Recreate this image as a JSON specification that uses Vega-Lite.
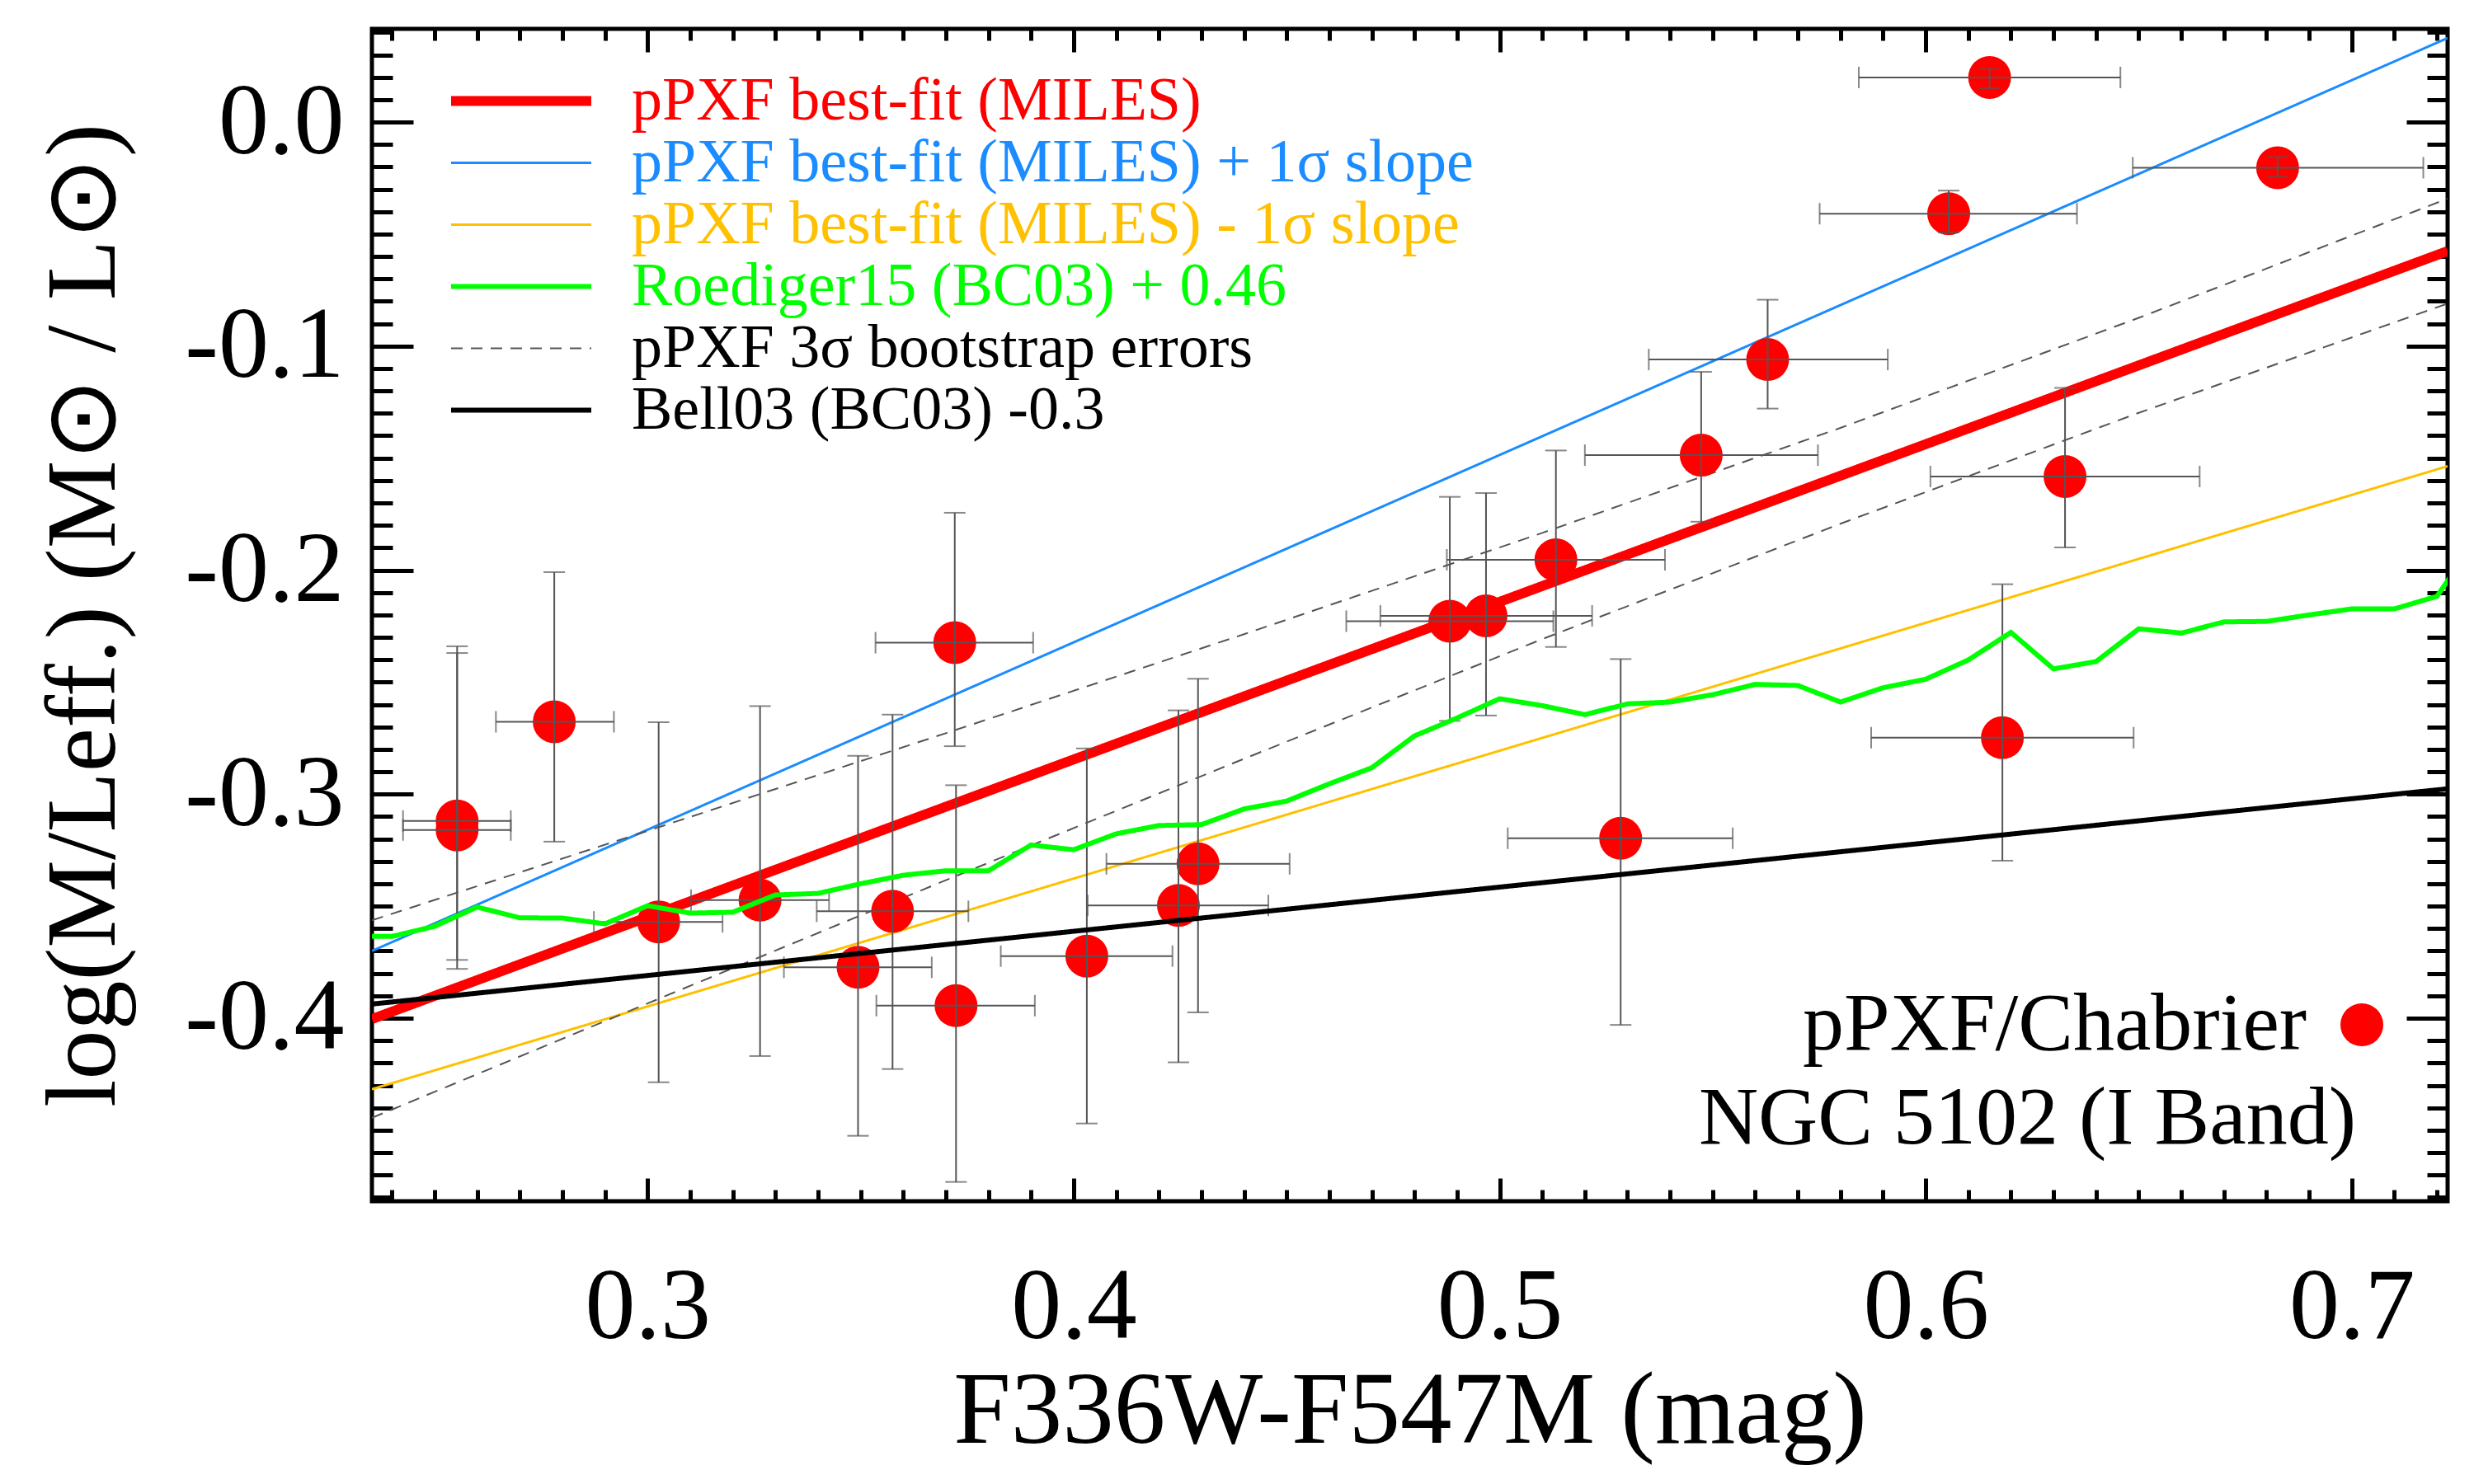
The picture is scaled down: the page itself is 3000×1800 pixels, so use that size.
{
  "$schema": "https://vega.github.io/schema/vega-lite/v6.json",
  "width": 2517,
  "height": 1422,
  "autosize": {"type": "none"},
  "padding": {"left": 451, "top": 35, "right": 32, "bottom": 343},
  "background": "white",
  "title": {"text": "NGC 5102 (I Band)", "orient": "top", "anchor": "end", "frame": "group", "offset": -1454, "dx": -111, "baseline": "alphabetic", "font": "Liberation Serif", "fontSize": 100, "fontWeight": "normal", "color": "black"},
  "config": {
    "view": {"stroke": "black", "strokeWidth": 5},
    "font": "Liberation Serif",
    "axis": {"domain": false, "grid": false, "tickColor": "black", "tickWidth": 5, "labelColor": "black", "labelFont": "Liberation Serif", "titleFont": "Liberation Serif", "titleFontWeight": "normal", "titleColor": "black", "labelLimit": 1000, "titleLimit": 3000, "zindex": 1},
    "legend": {"labelFont": "Liberation Serif", "titleFont": "Liberation Serif", "labelColor": "black"}
  },
  "datasets": {
    "points": [
      {"x": 0.2553, "y": -0.312, "xlo": 0.2426, "xhi": 0.2679, "ylo": -0.374, "yhi": -0.234},
      {"x": 0.2553, "y": -0.316, "xlo": 0.2426, "xhi": 0.2679, "ylo": -0.378, "yhi": -0.237},
      {"x": 0.2781, "y": -0.2677, "xlo": 0.2644, "xhi": 0.2921, "ylo": -0.3212, "yhi": -0.2009},
      {"x": 0.3026, "y": -0.357, "xlo": 0.2874, "xhi": 0.3176, "ylo": -0.4286, "yhi": -0.2679},
      {"x": 0.3264, "y": -0.3473, "xlo": 0.3102, "xhi": 0.3426, "ylo": -0.4169, "yhi": -0.2607},
      {"x": 0.3494, "y": -0.3773, "xlo": 0.332, "xhi": 0.3667, "ylo": -0.4525, "yhi": -0.2829},
      {"x": 0.3575, "y": -0.3523, "xlo": 0.3397, "xhi": 0.3753, "ylo": -0.4227, "yhi": -0.2645},
      {"x": 0.3721, "y": -0.2324, "xlo": 0.3535, "xhi": 0.3905, "ylo": -0.2786, "yhi": -0.1744},
      {"x": 0.3724, "y": -0.3944, "xlo": 0.3537, "xhi": 0.3909, "ylo": -0.4731, "yhi": -0.296},
      {"x": 0.4031, "y": -0.3723, "xlo": 0.3829, "xhi": 0.4232, "ylo": -0.447, "yhi": -0.2796},
      {"x": 0.4246, "y": -0.3497, "xlo": 0.4033, "xhi": 0.4457, "ylo": -0.4197, "yhi": -0.2626},
      {"x": 0.4292, "y": -0.3311, "xlo": 0.4077, "xhi": 0.4507, "ylo": -0.3974, "yhi": -0.2485},
      {"x": 0.4883, "y": -0.2228, "xlo": 0.464, "xhi": 0.5126, "ylo": -0.2673, "yhi": -0.1673},
      {"x": 0.4968, "y": -0.2204, "xlo": 0.472, "xhi": 0.5217, "ylo": -0.2649, "yhi": -0.1656},
      {"x": 0.5132, "y": -0.1954, "xlo": 0.4876, "xhi": 0.5388, "ylo": -0.2343, "yhi": -0.1466},
      {"x": 0.5284, "y": -0.3197, "xlo": 0.5019, "xhi": 0.5547, "ylo": -0.403, "yhi": -0.2397},
      {"x": 0.5473, "y": -0.1487, "xlo": 0.52, "xhi": 0.5747, "ylo": -0.1784, "yhi": -0.1115},
      {"x": 0.5629, "y": -0.106, "xlo": 0.535, "xhi": 0.5911, "ylo": -0.1279, "yhi": -0.0793},
      {"x": 0.6054, "y": -0.0409, "xlo": 0.5751, "xhi": 0.6355, "ylo": -0.0493, "yhi": -0.0306},
      {"x": 0.615, "y": 0.0199, "xlo": 0.5843, "xhi": 0.6457, "ylo": 0.0151, "yhi": 0.0237},
      {"x": 0.618, "y": -0.2748, "xlo": 0.5872, "xhi": 0.6488, "ylo": -0.3297, "yhi": -0.2063},
      {"x": 0.6327, "y": -0.1582, "xlo": 0.6011, "xhi": 0.6643, "ylo": -0.1899, "yhi": -0.1187},
      {"x": 0.6826, "y": -0.0204, "xlo": 0.6486, "xhi": 0.7168, "ylo": -0.0244, "yhi": -0.0156}
    ],
    "lines": [
      {"series": "pPXF best-fit (MILES)", "part": "a", "x": 0.2353, "y": -0.4004},
      {"series": "pPXF best-fit (MILES)", "part": "a", "x": 0.7225, "y": -0.0576},
      {"series": "pPXF best-fit (MILES) + 1σ slope", "part": "a", "x": 0.2353, "y": -0.37},
      {"series": "pPXF best-fit (MILES) + 1σ slope", "part": "a", "x": 0.7225, "y": 0.0375},
      {"series": "pPXF best-fit (MILES) - 1σ slope", "part": "a", "x": 0.2353, "y": -0.4317},
      {"series": "pPXF best-fit (MILES) - 1σ slope", "part": "a", "x": 0.7225, "y": -0.1536},
      {"series": "Bell03 (BC03) -0.3", "part": "a", "x": 0.2353, "y": -0.3937},
      {"series": "Bell03 (BC03) -0.3", "part": "a", "x": 0.7225, "y": -0.2976},
      {"series": "pPXF 3σ bootstrap errors", "part": "upper", "x": 0.2353, "y": -0.3563},
      {"series": "pPXF 3σ bootstrap errors", "part": "upper", "x": 0.30, "y": -0.3164},
      {"series": "pPXF 3σ bootstrap errors", "part": "upper", "x": 0.37, "y": -0.2728},
      {"series": "pPXF 3σ bootstrap errors", "part": "upper", "x": 0.44, "y": -0.2286},
      {"series": "pPXF 3σ bootstrap errors", "part": "upper", "x": 0.51, "y": -0.1834},
      {"series": "pPXF 3σ bootstrap errors", "part": "upper", "x": 0.58, "y": -0.1365},
      {"series": "pPXF 3σ bootstrap errors", "part": "upper", "x": 0.65, "y": -0.0874},
      {"series": "pPXF 3σ bootstrap errors", "part": "upper", "x": 0.7225, "y": -0.0342},
      {"series": "pPXF 3σ bootstrap errors", "part": "lower", "x": 0.2353, "y": -0.4445},
      {"series": "pPXF 3σ bootstrap errors", "part": "lower", "x": 0.30, "y": -0.3934},
      {"series": "pPXF 3σ bootstrap errors", "part": "lower", "x": 0.37, "y": -0.3384},
      {"series": "pPXF 3σ bootstrap errors", "part": "lower", "x": 0.44, "y": -0.2842},
      {"series": "pPXF 3σ bootstrap errors", "part": "lower", "x": 0.51, "y": -0.2308},
      {"series": "pPXF 3σ bootstrap errors", "part": "lower", "x": 0.58, "y": -0.1793},
      {"series": "pPXF 3σ bootstrap errors", "part": "lower", "x": 0.65, "y": -0.1298},
      {"series": "pPXF 3σ bootstrap errors", "part": "lower", "x": 0.7225, "y": -0.081},
      {"series": "Roediger15 (BC03) + 0.46", "part": "a", "x": 0.23, "y": -0.3635},
      {"series": "Roediger15 (BC03) + 0.46", "part": "a", "x": 0.24, "y": -0.3635},
      {"series": "Roediger15 (BC03) + 0.46", "part": "a", "x": 0.25, "y": -0.359},
      {"series": "Roediger15 (BC03) + 0.46", "part": "a", "x": 0.26, "y": -0.3504},
      {"series": "Roediger15 (BC03) + 0.46", "part": "a", "x": 0.27, "y": -0.3552},
      {"series": "Roediger15 (BC03) + 0.46", "part": "a", "x": 0.28, "y": -0.3553},
      {"series": "Roediger15 (BC03) + 0.46", "part": "a", "x": 0.29, "y": -0.3579},
      {"series": "Roediger15 (BC03) + 0.46", "part": "a", "x": 0.30, "y": -0.3498},
      {"series": "Roediger15 (BC03) + 0.46", "part": "a", "x": 0.31, "y": -0.3531},
      {"series": "Roediger15 (BC03) + 0.46", "part": "a", "x": 0.32, "y": -0.3527},
      {"series": "Roediger15 (BC03) + 0.46", "part": "a", "x": 0.33, "y": -0.345},
      {"series": "Roediger15 (BC03) + 0.46", "part": "a", "x": 0.34, "y": -0.3443},
      {"series": "Roediger15 (BC03) + 0.46", "part": "a", "x": 0.35, "y": -0.34},
      {"series": "Roediger15 (BC03) + 0.46", "part": "a", "x": 0.36, "y": -0.3362},
      {"series": "Roediger15 (BC03) + 0.46", "part": "a", "x": 0.37, "y": -0.3342},
      {"series": "Roediger15 (BC03) + 0.46", "part": "a", "x": 0.38, "y": -0.3342},
      {"series": "Roediger15 (BC03) + 0.46", "part": "a", "x": 0.39, "y": -0.3227},
      {"series": "Roediger15 (BC03) + 0.46", "part": "a", "x": 0.40, "y": -0.3248},
      {"series": "Roediger15 (BC03) + 0.46", "part": "a", "x": 0.41, "y": -0.3177},
      {"series": "Roediger15 (BC03) + 0.46", "part": "a", "x": 0.42, "y": -0.314},
      {"series": "Roediger15 (BC03) + 0.46", "part": "a", "x": 0.43, "y": -0.3136},
      {"series": "Roediger15 (BC03) + 0.46", "part": "a", "x": 0.44, "y": -0.3066},
      {"series": "Roediger15 (BC03) + 0.46", "part": "a", "x": 0.45, "y": -0.3031},
      {"series": "Roediger15 (BC03) + 0.46", "part": "a", "x": 0.46, "y": -0.2954},
      {"series": "Roediger15 (BC03) + 0.46", "part": "a", "x": 0.47, "y": -0.2882},
      {"series": "Roediger15 (BC03) + 0.46", "part": "a", "x": 0.48, "y": -0.274},
      {"series": "Roediger15 (BC03) + 0.46", "part": "a", "x": 0.49, "y": -0.266},
      {"series": "Roediger15 (BC03) + 0.46", "part": "a", "x": 0.50, "y": -0.2574},
      {"series": "Roediger15 (BC03) + 0.46", "part": "a", "x": 0.51, "y": -0.2605},
      {"series": "Roediger15 (BC03) + 0.46", "part": "a", "x": 0.52, "y": -0.2645},
      {"series": "Roediger15 (BC03) + 0.46", "part": "a", "x": 0.53, "y": -0.2597},
      {"series": "Roediger15 (BC03) + 0.46", "part": "a", "x": 0.54, "y": -0.2589},
      {"series": "Roediger15 (BC03) + 0.46", "part": "a", "x": 0.55, "y": -0.2556},
      {"series": "Roediger15 (BC03) + 0.46", "part": "a", "x": 0.56, "y": -0.251},
      {"series": "Roediger15 (BC03) + 0.46", "part": "a", "x": 0.57, "y": -0.2515},
      {"series": "Roediger15 (BC03) + 0.46", "part": "a", "x": 0.58, "y": -0.2589},
      {"series": "Roediger15 (BC03) + 0.46", "part": "a", "x": 0.59, "y": -0.2525},
      {"series": "Roediger15 (BC03) + 0.46", "part": "a", "x": 0.60, "y": -0.2487},
      {"series": "Roediger15 (BC03) + 0.46", "part": "a", "x": 0.61, "y": -0.2401},
      {"series": "Roediger15 (BC03) + 0.46", "part": "a", "x": 0.62, "y": -0.2278},
      {"series": "Roediger15 (BC03) + 0.46", "part": "a", "x": 0.63, "y": -0.2441},
      {"series": "Roediger15 (BC03) + 0.46", "part": "a", "x": 0.64, "y": -0.2408},
      {"series": "Roediger15 (BC03) + 0.46", "part": "a", "x": 0.65, "y": -0.2262},
      {"series": "Roediger15 (BC03) + 0.46", "part": "a", "x": 0.66, "y": -0.2281},
      {"series": "Roediger15 (BC03) + 0.46", "part": "a", "x": 0.67, "y": -0.2231},
      {"series": "Roediger15 (BC03) + 0.46", "part": "a", "x": 0.68, "y": -0.2229},
      {"series": "Roediger15 (BC03) + 0.46", "part": "a", "x": 0.69, "y": -0.22},
      {"series": "Roediger15 (BC03) + 0.46", "part": "a", "x": 0.70, "y": -0.2173},
      {"series": "Roediger15 (BC03) + 0.46", "part": "a", "x": 0.71, "y": -0.2173},
      {"series": "Roediger15 (BC03) + 0.46", "part": "a", "x": 0.72, "y": -0.2117},
      {"series": "Roediger15 (BC03) + 0.46", "part": "a", "x": 0.73, "y": -0.184}
    ]
  },
  "resolve": {"axis": {"x": "independent", "y": "independent"}},
  "layer": [
    {
      "data": {"name": "lines"},
      "transform": [{"filter": {"field": "series", "equal": "pPXF best-fit (MILES)"}}],
      "mark": {"type": "line", "clip": true, "strokeCap": "butt", "strokeWidth": 12},
      "encoding": {
        "x": {"field": "x", "type": "quantitative", "scale": {"domain": [0.2353, 0.7225], "nice": false, "zero": false},
          "axis": {"orient": "bottom", "values": [0.3, 0.4, 0.5, 0.6, 0.7], "format": ".1f", "tickSize": -28, "labelFontSize": 122, "labelPadding": 97, "labelFlush": false, "labelOverlap": false, "title": "F336W-F547M (mag)", "titleFontSize": 125, "titlePadding": 4}},
        "y": {"field": "y", "type": "quantitative", "scale": {"domain": [-0.4817, 0.0416], "nice": false, "zero": false},
          "axis": {"orient": "left", "values": [-0.4, -0.3, -0.2, -0.1, 0], "format": ".1f", "labelExpr": "replace(datum.label, '\u2212', '-')", "tickSize": -50, "labelFontSize": 122, "labelPadding": 84, "labelFlush": false, "labelOverlap": false, "title": "log(M/Leff.) (M⊙ / L⊙)", "titleFontSize": 120, "titlePadding": 88}},
        "color": {"field": "series", "type": "nominal",
          "scale": {"domain": ["pPXF best-fit (MILES)", "pPXF best-fit (MILES) + 1σ slope", "pPXF best-fit (MILES) - 1σ slope", "Roediger15 (BC03) + 0.46", "pPXF 3σ bootstrap errors", "Bell03 (BC03) -0.3"], "range": ["#ff0000", "#1a8cff", "#ffc000", "#00ff00", "#555555", "#000000"]},
          "legend": {"orient": "top-left", "offset": 50, "padding": 0, "title": null, "symbolType": "stroke", "symbolSize": 28900, "symbolOffset": 94, "labelOffset": 97, "labelFontSize": 74, "labelLimit": 3000, "clipHeight": 75, "rowPadding": 0,
            "encode": {
              "labels": {"update": {"fill": {"signal": "datum.value === 'pPXF 3σ bootstrap errors' || datum.value === 'Bell03 (BC03) -0.3' ? 'black' : scale('color', datum.value)"}}},
              "symbols": {"update": {"strokeWidth": {"signal": "datum.value === 'pPXF best-fit (MILES)' ? 12 : (datum.value === 'Roediger15 (BC03) + 0.46' || datum.value === 'Bell03 (BC03) -0.3') ? 6 : datum.value === 'pPXF 3σ bootstrap errors' ? 2 : 3"}}}
            }}},
        "strokeDash": {"field": "series", "type": "nominal",
          "scale": {"domain": ["pPXF best-fit (MILES)", "pPXF best-fit (MILES) + 1σ slope", "pPXF best-fit (MILES) - 1σ slope", "Roediger15 (BC03) + 0.46", "pPXF 3σ bootstrap errors", "Bell03 (BC03) -0.3"], "range": [[1, 0], [1, 0], [1, 0], [1, 0], [14, 10], [1, 0]]}},
        "detail": {"field": "part", "type": "nominal"}
      }
    },
    {
      "data": {"name": "lines"},
      "transform": [{"filter": {"field": "series", "oneOf": ["pPXF best-fit (MILES) + 1σ slope", "pPXF best-fit (MILES) - 1σ slope"]}}],
      "mark": {"type": "line", "clip": true, "strokeCap": "butt", "strokeWidth": 3},
      "encoding": {
        "x": {"field": "x", "type": "quantitative", "axis": {"orient": "bottom", "values": [0.24, 0.25, 0.26, 0.27, 0.28, 0.29, 0.30, 0.31, 0.32, 0.33, 0.34, 0.35, 0.36, 0.37, 0.38, 0.39, 0.40, 0.41, 0.42, 0.43, 0.44, 0.45, 0.46, 0.47, 0.48, 0.49, 0.50, 0.51, 0.52, 0.53, 0.54, 0.55, 0.56, 0.57, 0.58, 0.59, 0.60, 0.61, 0.62, 0.63, 0.64, 0.65, 0.66, 0.67, 0.68, 0.69, 0.70, 0.71, 0.72], "tickSize": -14, "labels": false, "title": null}},
        "y": {"field": "y", "type": "quantitative", "axis": {"orient": "left", "values": [-0.48, -0.47, -0.46, -0.45, -0.44, -0.43, -0.42, -0.41, -0.40, -0.39, -0.38, -0.37, -0.36, -0.35, -0.34, -0.33, -0.32, -0.31, -0.30, -0.29, -0.28, -0.27, -0.26, -0.25, -0.24, -0.23, -0.22, -0.21, -0.20, -0.19, -0.18, -0.17, -0.16, -0.15, -0.14, -0.13, -0.12, -0.11, -0.10, -0.09, -0.08, -0.07, -0.06, -0.05, -0.04, -0.03, -0.02, -0.01, 0, 0.01, 0.02, 0.03, 0.04], "tickSize": -25, "labels": false, "title": null}},
        "color": {"field": "series", "type": "nominal", "legend": null},
        "strokeDash": {"field": "series", "type": "nominal", "legend": null},
        "detail": {"field": "part", "type": "nominal"}
      }
    },
    {
      "data": {"name": "lines"},
      "transform": [{"filter": {"field": "series", "equal": "pPXF 3σ bootstrap errors"}}],
      "mark": {"type": "line", "clip": true, "strokeCap": "butt", "strokeWidth": 2},
      "encoding": {
        "x": {"field": "x", "type": "quantitative", "axis": null},
        "y": {"field": "y", "type": "quantitative", "axis": null},
        "color": {"field": "series", "type": "nominal", "legend": null},
        "strokeDash": {"field": "series", "type": "nominal", "legend": null},
        "detail": {"field": "part", "type": "nominal"}
      }
    },
    {
      "data": {"name": "points"},
      "mark": {"type": "point", "filled": true, "size": 2704, "color": "#ff0000", "opacity": 1, "strokeWidth": 0, "clip": true},
      "encoding": {
        "x": {"field": "x", "type": "quantitative", "axis": {"orient": "top", "values": [0.24, 0.25, 0.26, 0.27, 0.28, 0.29, 0.30, 0.31, 0.32, 0.33, 0.34, 0.35, 0.36, 0.37, 0.38, 0.39, 0.40, 0.41, 0.42, 0.43, 0.44, 0.45, 0.46, 0.47, 0.48, 0.49, 0.50, 0.51, 0.52, 0.53, 0.54, 0.55, 0.56, 0.57, 0.58, 0.59, 0.60, 0.61, 0.62, 0.63, 0.64, 0.65, 0.66, 0.67, 0.68, 0.69, 0.70, 0.71, 0.72], "tickSize": -14, "labels": false, "title": null}},
        "y": {"field": "y", "type": "quantitative", "axis": {"orient": "right", "values": [-0.48, -0.47, -0.46, -0.45, -0.44, -0.43, -0.42, -0.41, -0.40, -0.39, -0.38, -0.37, -0.36, -0.35, -0.34, -0.33, -0.32, -0.31, -0.30, -0.29, -0.28, -0.27, -0.26, -0.25, -0.24, -0.23, -0.22, -0.21, -0.20, -0.19, -0.18, -0.17, -0.16, -0.15, -0.14, -0.13, -0.12, -0.11, -0.10, -0.09, -0.08, -0.07, -0.06, -0.05, -0.04, -0.03, -0.02, -0.01, 0, 0.01, 0.02, 0.03, 0.04], "tickSize": -25, "labels": false, "title": null}},
        "shape": {"datum": "pPXF/Chabrier", "type": "nominal", "scale": {"domain": ["pPXF/Chabrier"], "range": ["circle"]},
          "legend": {"orient": "none", "legendX": 1735, "legendY": 1182, "padding": 0, "title": "pPXF/Chabrier", "titleOrient": "left", "titleAnchor": "middle", "titleBaseline": "middle", "titlePadding": 40, "titleFontSize": 100, "titleFontWeight": "normal", "titleColor": "black", "titleLimit": 3000, "labelExpr": "''", "labelFontSize": 1, "labelOffset": 0, "symbolOffset": 0, "symbolSize": 2704, "symbolType": "circle", "symbolFillColor": "#ff0000", "symbolStrokeWidth": 0, "symbolOpacity": 1}}
      }
    },
    {
      "data": {"name": "points"},
      "mark": {"type": "errorbar", "ticks": true, "size": 26, "thickness": 2, "color": "#555555"},
      "encoding": {
        "x": {"field": "x", "type": "quantitative", "axis": null},
        "y": {"field": "ylo", "type": "quantitative", "axis": null},
        "y2": {"field": "yhi"}
      }
    },
    {
      "data": {"name": "points"},
      "mark": {"type": "errorbar", "ticks": true, "size": 26, "thickness": 2, "color": "#555555"},
      "encoding": {
        "y": {"field": "y", "type": "quantitative", "axis": null},
        "x": {"field": "xlo", "type": "quantitative", "axis": null},
        "x2": {"field": "xhi"}
      }
    },
    {
      "data": {"name": "lines"},
      "transform": [{"filter": {"field": "series", "oneOf": ["Roediger15 (BC03) + 0.46", "Bell03 (BC03) -0.3"]}}],
      "mark": {"type": "line", "clip": true, "strokeCap": "butt", "strokeWidth": 6},
      "encoding": {
        "x": {"field": "x", "type": "quantitative", "axis": {"orient": "top", "values": [0.3, 0.4, 0.5, 0.6, 0.7], "tickSize": -28, "labels": false, "title": null}},
        "y": {"field": "y", "type": "quantitative", "axis": {"orient": "right", "values": [-0.4, -0.3, -0.2, -0.1, 0], "tickSize": -50, "labels": false, "title": null}},
        "color": {"field": "series", "type": "nominal", "legend": null},
        "strokeDash": {"field": "series", "type": "nominal", "legend": null},
        "detail": {"field": "part", "type": "nominal"}
      }
    }
  ]
}
